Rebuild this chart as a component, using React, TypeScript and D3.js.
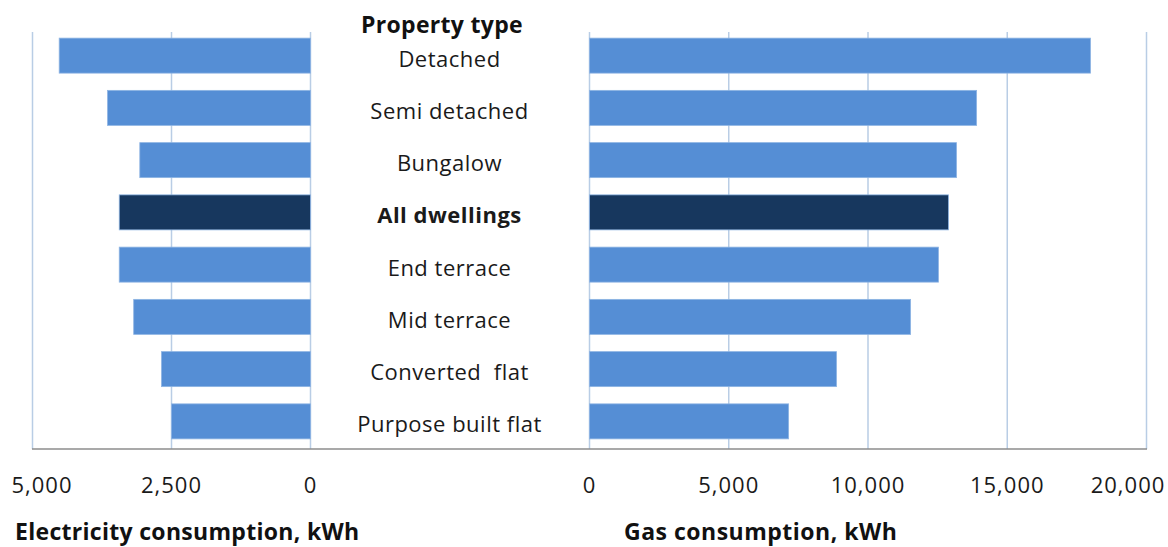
import React from "react";
import * as d3 from "d3";

const categories = [
  "Detached",
  "Semi detached",
  "Bungalow",
  "All dwellings",
  "End terrace",
  "Mid terrace",
  "Converted  flat",
  "Purpose built flat",
];
const electricity = [4520, 3650, 3070, 3440, 3440, 3180, 2680, 2500];
const gas = [17990, 13900, 13180, 12890, 12530, 11530, 8870, 7150];
const highlight = "All dwellings";
const elecTicks = [5000, 2500, 0];
const gasTicks = [0, 5000, 10000, 15000, 20000];

const W = 1168;
const H = 547;
const FONT = "'Open Sans', 'Noto Sans', sans-serif";
const LIGHT = "#558ED5";
const DARK = "#17375E";
const GRID = "#B9CDE5";

export default function App() {
  const top = 32;
  const bottom = 449;
  const y = d3
    .scaleBand<string>()
    .domain(categories)
    .range([29.5, 447.5])
    .paddingInner(0.33)
    .paddingOuter(0.165);
  const xL = d3.scaleLinear().domain([0, 5000]).range([310.5, 32.5]);
  const xR = d3.scaleLinear().domain([0, 20000]).range([589.5, 1146.5]);
  const fmt = d3.format(",");
  const midX = (310 + 589) / 2;

  return (
    <svg
      width={W}
      height={H}
      style={{ position: "absolute", left: 0, top: 0, background: "#fff" }}
      fontFamily={FONT}
    >
      {/* gridlines */}
      {elecTicks.map((t) => (
        <line key={"gl" + t} x1={xL(t)} x2={xL(t)} y1={top} y2={bottom} stroke={GRID} strokeWidth={1.5} />
      ))}
      {gasTicks.map((t) => (
        <line key={"gr" + t} x1={xR(t)} x2={xR(t)} y1={top} y2={bottom} stroke={GRID} strokeWidth={1.5} />
      ))}
      {/* bars */}
      {categories.map((c, i) => {
        const fill = c === highlight ? DARK : LIGHT;
        const by = y(c)!;
        const bh = y.bandwidth();
        return (
          <g key={c}>
            <rect
              x={xL(electricity[i])}
              y={by}
              width={xL(0) - xL(electricity[i])}
              height={bh}
              fill={fill}
              stroke="#8EB4E3"
              strokeWidth={0.8}
            />
            <rect
              x={xR(0)}
              y={by}
              width={xR(gas[i]) - xR(0)}
              height={bh}
              fill={fill}
              stroke="#8EB4E3"
              strokeWidth={0.8}
            />
            <text
              x={midX}
              y={by + bh / 2 + 11}
              textAnchor="middle"
              fontSize={22}
              letterSpacing={0.5}
              fontWeight={c === highlight ? 700 : 400}
              fill="#1a1a1a"
              style={{ whiteSpace: "pre" }}
            >
              {c}
            </text>
          </g>
        );
      })}
      {/* axis line */}
      <line x1={32} x2={1147} y1={449} y2={449} stroke="#8C8C8C" strokeWidth={1.5} />
      {/* tick labels */}
      {elecTicks.map((t) => (
        <text
          key={"tl" + t}
          x={Math.max(xL(t), 42)}
          y={493}
          textAnchor="middle"
          fontSize={22}
          letterSpacing={1}
          fill="#1a1a1a"
        >
          {fmt(t)}
        </text>
      ))}
      {gasTicks.map((t) => (
        <text
          key={"tr" + t}
          x={Math.min(xR(t), 1128)}
          y={493}
          textAnchor="middle"
          fontSize={22}
          letterSpacing={1}
          fill="#1a1a1a"
        >
          {fmt(t)}
        </text>
      ))}
      {/* titles */}
      <text x={442} y={33} textAnchor="middle" fontSize={23} letterSpacing={0.3} fontWeight={700} fill="#111">
        Property type
      </text>
      <text x={15} y={540} fontSize={23} letterSpacing={0.3} fontWeight={700} fill="#111">
        Electricity consumption, kWh
      </text>
      <text x={624} y={540} fontSize={23} letterSpacing={0.5} fontWeight={700} fill="#111">
        Gas consumption, kWh
      </text>
    </svg>
  );
}
